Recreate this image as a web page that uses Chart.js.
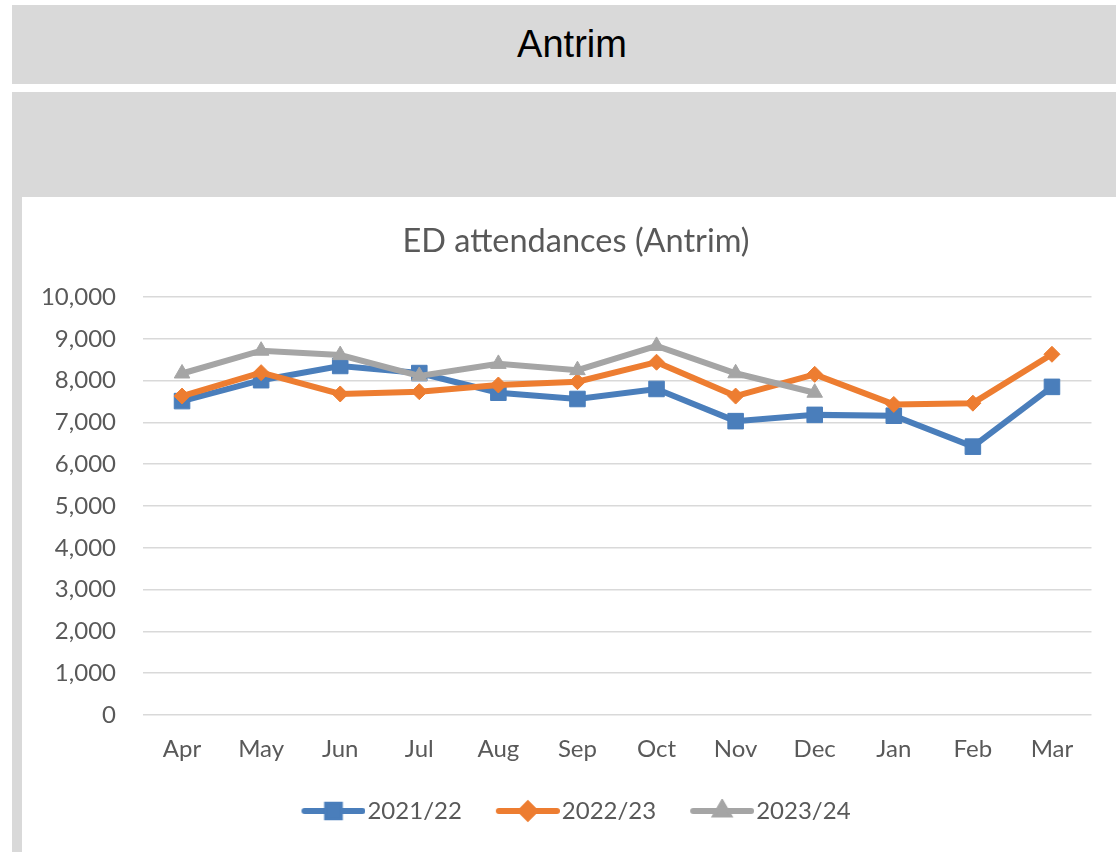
<!DOCTYPE html>
<html lang="en">

<head>
  <meta charset="UTF-8">
  <title>Antrim</title>
  <style>
    body { margin: 0; background: #fff; width: 1116px; height: 852px; overflow: hidden; position: relative; }
    .band { position: absolute; left: 12px; width: 1104px; background: #d9d9d9; }
    .site-header { top: 5px; height: 79px; line-height: 79px; text-align: center; padding-left: 16px; box-sizing: border-box;
      font-family: "Liberation Sans", Arial, sans-serif; font-size: 38px; color: #000; }
    .panel { top: 92px; height: 760px; }
    .chart-box { position: absolute; left: 22px; top: 197px; width: 1094px; height: 655px; background: #fff; overflow: hidden; }
  </style>
</head>

<body>
  <div class="band site-header">Antrim</div>
  <div class="band panel"></div>
  <!-- the chart object runs a little past the right edge of the window -->
  <div class="chart-box"><canvas id="edChart" width="1108" height="655"></canvas></div>

  <script src="https://cdn.jsdelivr.net/npm/chart.js"></script>

  <script>
    // monthly ED attendances, financial year Apr-Mar
    const months = ['Apr', 'May', 'Jun', 'Jul', 'Aug', 'Sep', 'Oct', 'Nov', 'Dec', 'Jan', 'Feb', 'Mar'];
    const fy2122 = [7510, 8010, 8350, 8180, 7710, 7560, 7800, 7030, 7180, 7160, 6420, 7850];
    const fy2223 = [7630, 8190, 7680, 7735, 7895, 7975, 8440, 7630, 8150, 7430, 7460, 8630];
    const fy2324 = [8170, 8715, 8610, 8110, 8400, 8250, 8830, 8175, 7710, null, null, null];
    const yTicks = [0, 1000, 2000, 3000, 4000, 5000, 6000, 7000, 8000, 9000, 10000];

    const textGrey = '#595959';
    const fontFamily = 'Lato, "Open Sans", sans-serif';

    // legend swatch: a short line with the series marker in the middle
    // (left 10px transparent so the line starts at the legend item's x)
    function legendSwatch(color, style, radius) {
      const c = document.createElement('canvas');
      c.width = 74; c.height = 24;
      const g = c.getContext('2d');
      g.strokeStyle = color;
      g.lineWidth = 6;
      g.lineCap = 'round';
      g.beginPath();
      g.moveTo(13, 12);
      g.lineTo(71, 12);
      g.stroke();
      g.fillStyle = color;
      Chart.helpers.drawPoint(g, { pointStyle: style, radius: radius, rotation: 0, borderWidth: 1 }, 42, 12);
      g.fill();
      return c;
    }

    const series = [
      { label: '2021/22', data: fy2122, color: '#4a7ebb', style: 'rect', radius: 11, legendRadius: 9, order: 3 },
      { label: '2022/23', data: fy2223, color: '#ed7d31', style: 'rectRot', radius: 8, legendRadius: 7, order: 2 },
      { label: '2023/24', data: fy2324, color: '#a5a5a5', style: 'triangle', radius: 9, legendRadius: 7, order: 1 }
    ];

    const ctx = document.getElementById('edChart').getContext('2d');
    new Chart(ctx, {
      type: 'line',
      data: {
        labels: months,
        datasets: series.map(s => ({
          label: s.label,
          data: s.data,
          order: s.order,
          borderColor: s.color,
          backgroundColor: s.color,
          borderWidth: 6,
          tension: 0,
          spanGaps: false,
          pointStyle: s.style,
          pointRadius: s.radius,
          pointBorderWidth: 1,
          pointBackgroundColor: s.color,
          pointBorderColor: s.color
        }))
      },
      options: {
        responsive: false,
        animation: false,
        locale: 'en-US',
        layout: { padding: { left: 0, right: 0, top: 0, bottom: 19 } },
        plugins: {
          tooltip: { enabled: false },
          title: {
            display: true,
            text: 'ED attendances (Antrim)',
            color: textGrey,
            font: { family: fontFamily, size: 32.5, weight: 'normal' },
            padding: { top: 25.5, bottom: 35.5 }
          },
          legend: {
            position: 'bottom',
            labels: {
              usePointStyle: true,
              pointStyleWidth: 54,
              padding: 34,
              color: textGrey,
              font: { family: fontFamily, size: 24 },
              generateLabels: chart => series.map((s, i) => ({
                text: s.label,
                datasetIndex: i,
                fontColor: textGrey,
                pointStyle: legendSwatch(s.color, s.style, s.legendRadius),
                lineWidth: 0,
                hidden: false
              }))
            }
          }
        },
        scales: {
          x: {
            offset: true,
            grid: { display: false, drawTicks: false },
            border: { display: false },
            ticks: {
              color: textGrey,
              padding: 19.6,
              font: { family: fontFamily, size: 24 },
              maxRotation: 0
            },
            afterFit: scale => { scale.height = 50; }
          },
          y: {
            min: 0,
            max: 10000,
            afterBuildTicks: scale => { scale.ticks = yTicks.map(v => ({ value: v })); },
            grid: { color: '#d9d9d9', lineWidth: 1.5, drawTicks: false },
            border: { display: false },
            ticks: {
              color: textGrey,
              padding: 26.5,
              font: { family: fontFamily, size: 24 },
              callback: v => v.toLocaleString('en-US')
            },
            afterFit: scale => { scale.width = 120.5; }
          },
          // empty strip on the right of the plot, inside the chart object
          yRight: {
            position: 'right',
            grid: { display: false },
            border: { display: false },
            ticks: { display: false },
            afterFit: scale => { scale.width = 38.5; }
          }
        }
      }
    });
  </script>
</body>

</html>
